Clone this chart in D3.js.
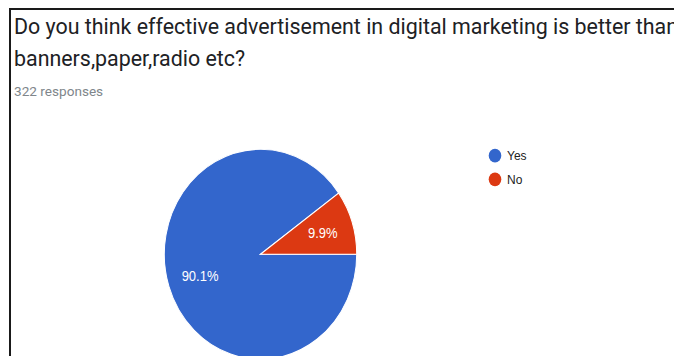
<!DOCTYPE html>
<html>
<head>
<meta charset="utf-8">
<script src="https://cdn.jsdelivr.net/npm/d3@7"></script>
<style>
  html, body { margin: 0; padding: 0; background: #fff; overflow: hidden; }
  svg { display: block; }
</style>
</head>
<body>
<div id="chart"></div>
<script>
// Survey answers and their response shares
const categories = ["Yes", "No"];
const shares = [90.1, 9.9];
const colors = ["#3366cc", "#dc3912"];
const titleLines = [
  "Do you think effective advertisement in digital marketing is better than",
  "banners,paper,radio etc?"
];
const subtitle = "322 responses";

const W = 674, H = 356;
const svg = d3.select("#chart").append("svg")
  .attr("width", W).attr("height", H);

// Card frame
svg.append("rect")
  .attr("x", 10).attr("y", 9)
  .attr("width", W + 20).attr("height", H + 20)
  .attr("fill", "#fff")
  .attr("stroke", "#1a1a1a").attr("stroke-width", 2);

// Title and response count
svg.selectAll("text.title")
  .data(titleLines)
  .join("text")
  .attr("class", "title")
  .attr("x", 14)
  .attr("y", (d, i) => 33.5 + i * 32.5)
  .attr("font-family", "Roboto, sans-serif")
  .attr("font-size", 21.4)
  .attr("fill", "#202124")
  .text(d => d);
svg.append("text")
  .attr("x", 14).attr("y", 96)
  .attr("font-family", "Roboto, sans-serif")
  .attr("font-size", 13.6)
  .attr("fill", "#80868b")
  .text(subtitle);

// Pie (drawn slightly taller than wide)
const stretch = 1.09;
const cx = 260.5, cy = 254.3, rx = 96.2, ry = 105;
const pie = d3.pie().sort(null).value(d => d)
  .startAngle(Math.PI / 2).endAngle(Math.PI / 2 + 2 * Math.PI);
const arcs = pie(shares);
const arc = d3.arc().innerRadius(0).outerRadius(rx);

const pg = svg.append("g")
  .attr("transform", `translate(${cx},${cy}) scale(1,${ry / rx})`);
pg.selectAll("path")
  .data(arcs)
  .join("path")
  .attr("d", arc)
  .attr("fill", (d, i) => colors[i])
  .attr("stroke", "#fff")
  .attr("stroke-width", 1);

// Percentage labels placed along each slice's bisector
const labelR = [0.66, 0.68];
svg.append("g").selectAll("text")
  .data(arcs)
  .join("text")
  .attr("transform", (d, i) => {
    const a = (d.startAngle + d.endAngle) / 2;
    const x = cx + Math.sin(a) * rx * labelR[i];
    const y = cy - Math.cos(a) * ry * labelR[i];
    return `translate(${x},${y}) scale(1,${stretch})`;
  })
  .attr("text-anchor", "middle")
  .attr("dy", "0.36em")
  .attr("font-family", "Arial, 'Liberation Sans', sans-serif")
  .attr("font-size", 13)
  .attr("fill", "#fff")
  .text(d => d.data.toFixed(1) + "%");

// Legend
const lg = svg.append("g").selectAll("g")
  .data(categories)
  .join("g")
  .attr("transform", (d, i) => `translate(495,${155.7 + i * 23.6})`);
lg.append("ellipse")
  .attr("rx", 6.3).attr("ry", 6.3 * stretch)
  .attr("fill", (d, i) => colors[i]);
lg.append("text")
  .attr("transform", `translate(12,0) scale(1,${stretch})`)
  .attr("dy", "0.36em")
  .attr("font-family", "Arial, 'Liberation Sans', sans-serif")
  .attr("font-size", 12)
  .attr("fill", "#222")
  .text(d => d);
</script>
</body>
</html>
